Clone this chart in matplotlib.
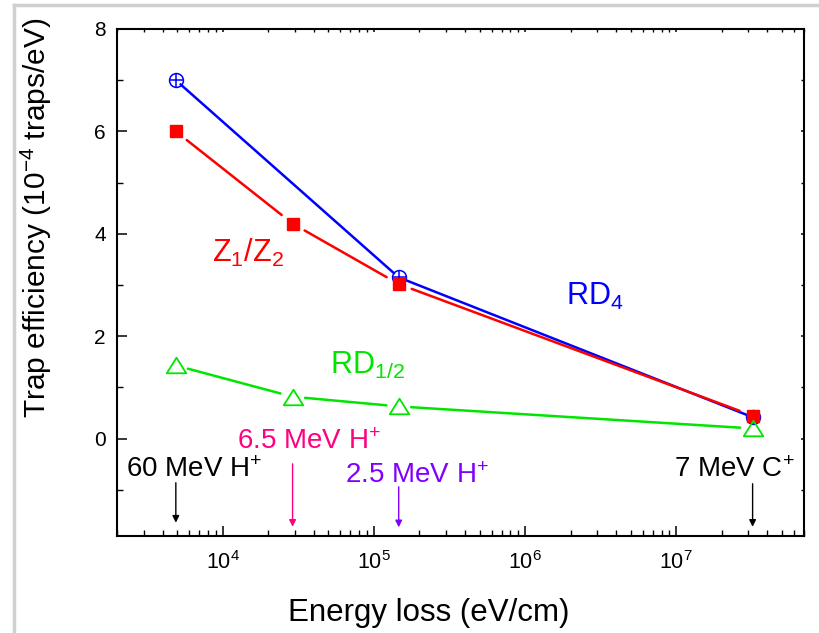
import matplotlib
matplotlib.use("Agg")
import matplotlib.pyplot as plt
from matplotlib.lines import Line2D
from matplotlib.path import Path
import numpy as np

plt.rcParams['font.family'] = ['Liberation Sans', 'DejaVu Sans']
plt.rcParams['mathtext.default'] = 'regular'

# ---- data ----
energy_loss = [4.9e3, 2.9e4, 1.46e5, 3.2e7]
rd4_energy = [4.9e3, 1.46e5, 3.2e7]
rd4_values = [7.0, 3.15, 0.42]
z1z2_values = [6.0, 4.2, 3.02, 0.45]
rd12_values = [1.43, 0.82, 0.63, 0.2]

ion_labels = ['60 MeV H$^{+}$', '6.5 MeV H$^{+}$', '2.5 MeV H$^{+}$', '7 MeV C$^{+}$']
ion_energy = [4.9e3, 2.9e4, 1.46e5, 3.2e7]
ion_colors = ['black', '#ff0080', '#8000ff', 'black']

BLUE = '#0000ff'
RED = '#ff0000'
GREEN = '#00e600'

fig = plt.figure(figsize=(8.2, 6.33), dpi=100)
ax = fig.add_axes([117/820, 1-536/633, (804-117)/820, (536-29)/633])

tri = Path([(-1, -0.8), (1, -0.8), (0, 0.8), (-1, -0.8)],
           [Path.MOVETO, Path.LINETO, Path.LINETO, Path.CLOSEPOLY])


def gapped_line(xs, ys, color, shrink):
    for i in range(len(xs) - 1):
        ax.annotate('', xy=(xs[i+1], ys[i+1]), xytext=(xs[i], ys[i]),
                    xycoords='data', textcoords='data',
                    arrowprops=dict(arrowstyle='-', color=color, lw=1.8,
                                    shrinkA=shrink, shrinkB=shrink),
                    zorder=2)


# series
gapped_line(rd4_energy, rd4_values, BLUE, 4.5)
ax.plot(rd4_energy, rd4_values, linestyle='none', marker='o', ms=10,
        mfc='none', mec=BLUE, mew=1.1, zorder=4)
ax.plot(rd4_energy, rd4_values, linestyle='none', marker='+', ms=10,
        mec=BLUE, mew=1.1, zorder=4)

gapped_line(energy_loss, z1z2_values, RED, 10)
ax.plot(energy_loss, z1z2_values, linestyle='none', marker='s', ms=9,
        mfc=RED, mec=RED, zorder=5)

gapped_line(energy_loss, rd12_values, GREEN, 9)
ax.plot(energy_loss, rd12_values, linestyle='none', marker=tri, ms=14,
        mfc='none', mec=GREEN, mew=1.3, zorder=5)

ax.set_xscale('log')
ax.set_xlim(2.0e3, 7.0e7)
ax.set_ylim(-1.9, 8.0)
ax.set_yticks([0, 2, 4, 6, 8])
ax.set_yticks([-1, 1, 3, 5, 7], minor=True)

for s in ax.spines.values():
    s.set_linewidth(1.5)

ax.tick_params(axis='both', which='major', direction='in', length=7, width=1.1)
ax.tick_params(axis='y', which='major', labelsize=15, pad=8)
ax.tick_params(axis='x', which='major', labelsize=15.5, pad=11)
ax.tick_params(axis='both', which='minor', direction='in', length=4, width=1.0)
ax.tick_params(axis='both', which='both', top=True, right=True)
# short ticks on top/right
for t in ax.xaxis.get_major_ticks() + ax.xaxis.get_minor_ticks():
    t.tick2line.set_markersize(2.5)
for t in ax.yaxis.get_major_ticks() + ax.yaxis.get_minor_ticks():
    t.tick2line.set_markersize(2.5)

ax.set_xlabel('Energy loss (eV/cm)', fontsize=22.5)
ax.set_ylabel('Trap efficiency (10$^{-4}$ traps/eV)', fontsize=21.5)
ax.xaxis.set_label_coords(0.454, -0.122)
ax.yaxis.set_label_coords(-0.092, 0.627)

# series labels
ax.text(8.5e3, 3.45, 'Z$_1$/Z$_2$', color=RED, fontsize=22, ha='left', va='baseline')
ax.text(1.86e6, 2.61, 'RD$_4$', color=BLUE, fontsize=22, ha='left', va='baseline')
ax.text(5.1e4, 1.27, 'RD$_{1/2}$', color=GREEN, fontsize=22, ha='left', va='baseline')

# ion annotations
text_x = [2.3e3, 1.25e4, 6.4e4, 9.7e6]
text_y = [-0.74, -0.21, -0.86, -0.74]
arrow_top = [-0.86, -0.49, -0.94, -0.88]
arrow_bottom = [-1.64, -1.72, -1.73, -1.72]
for lab, xe, col, tx, ty, a0, a1 in zip(ion_labels, ion_energy, ion_colors,
                                         text_x, text_y, arrow_top, arrow_bottom):
    ax.text(tx, ty, lab, color=col, fontsize=20, ha='left', va='baseline')
    ax.annotate('', xy=(xe, a1), xytext=(xe, a0),
                arrowprops=dict(arrowstyle='-|>', color=col, lw=1.0,
                                mutation_scale=10, shrinkA=0, shrinkB=0))

# light gray frame of the original picture
fig.add_artist(Line2D([14.5/820, 1.0], [1-4.5/633, 1-4.5/633],
                      transform=fig.transFigure, color='#d0d0d0', lw=2.5))
fig.add_artist(Line2D([14.5/820, 14.5/820], [0.0, 1-4.5/633],
                      transform=fig.transFigure, color='#d0d0d0', lw=2.5))

fig.savefig('out.png', dpi=100)
